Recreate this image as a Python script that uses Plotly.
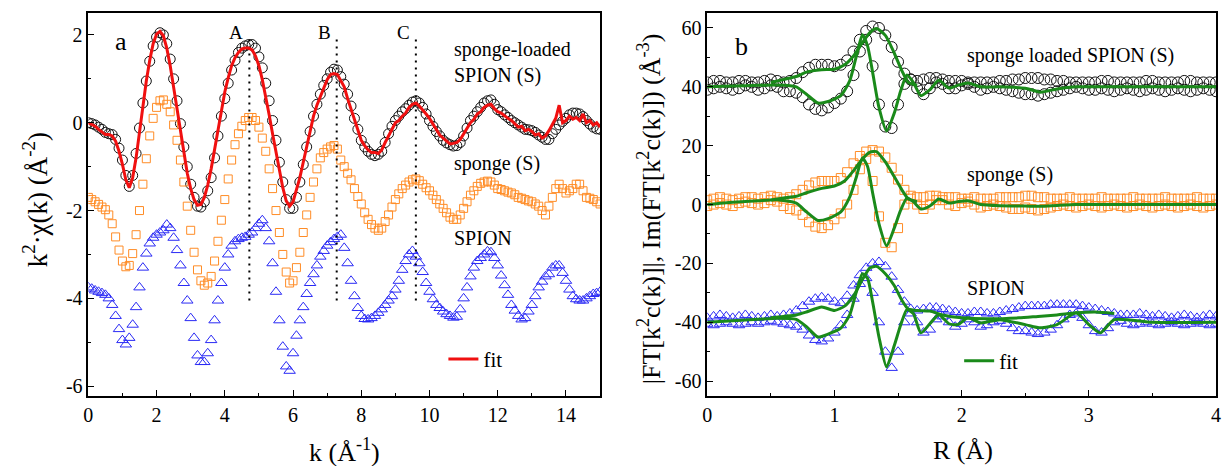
import plotly.graph_objects as go

# ---------------- panel a data (k-space) ----------------
k = [round(0.1 * i, 1) for i in range(151)]

chi_loaded = [
    0.00, -0.02, -0.05, -0.10, -0.15, -0.22, -0.25, -0.27, -0.38, -0.58,
    -0.85, -1.20, -1.45, -1.20, -0.70, -0.12, 0.45, 0.95, 1.40, 1.75,
    1.95, 2.05, 2.00, 1.80, 1.45, 1.00, 0.50, -0.02, -0.55, -1.00,
    -1.40, -1.70, -1.90, -1.92, -1.80, -1.55, -1.25, -0.80, -0.30, 0.15,
    0.55, 0.90, 1.20, 1.42, 1.60, 1.70, 1.75, 1.78, 1.78, 1.70,
    1.50, 1.25, 0.90, 0.50, 0.05, -0.40, -0.90, -1.35, -1.75, -1.95,
    -1.95, -1.70, -1.35, -0.95, -0.55, -0.20, 0.15, 0.42, 0.65, 0.85,
    1.00, 1.15, 1.22, 1.20, 1.05, 0.88, 0.65, 0.38, 0.10, -0.15,
    -0.40, -0.55, -0.65, -0.72, -0.75, -0.72, -0.65, -0.45, -0.25, -0.08,
    0.05, 0.15, 0.25, 0.32, 0.40, 0.47, 0.50, 0.45, 0.35, 0.20,
    0.05, -0.08, -0.20, -0.30, -0.40, -0.46, -0.50, -0.53, -0.52, -0.45,
    -0.30, -0.12, 0.05, 0.15, 0.25, 0.35, 0.45, 0.50, 0.52, 0.42,
    0.30, 0.25, 0.18, 0.12, 0.05, 0.00, -0.05, -0.10, -0.15, -0.16,
    -0.18, -0.22, -0.28, -0.33, -0.38, -0.38, -0.25, -0.15, -0.05, 0.03,
    0.10, 0.18, 0.22, 0.22, 0.20, 0.14, 0.05, -0.03, -0.10, -0.14,
    -0.15]

chi_fit = [
    0.00, -0.04, -0.08, -0.15, -0.22, -0.27, -0.27, -0.30, -0.42, -0.65,
    -0.95, -1.30, -1.48, -1.25, -0.80, -0.20, 0.40, 0.95, 1.42, 1.80,
    2.02, 2.08, 1.98, 1.70, 1.30, 0.82, 0.30, -0.22, -0.72, -1.15,
    -1.50, -1.75, -1.88, -1.86, -1.70, -1.42, -1.05, -0.60, -0.15, 0.30,
    0.70, 1.02, 1.30, 1.48, 1.60, 1.68, 1.70, 1.70, 1.66, 1.52,
    1.30, 0.98, 0.60, 0.18, -0.25, -0.68, -1.10, -1.48, -1.78, -1.90,
    -1.80, -1.55, -1.25, -0.90, -0.55, -0.20, 0.15, 0.40, 0.60, 0.80,
    0.98, 1.10, 1.12, 1.10, 0.95, 0.82, 0.55, 0.30, 0.05, -0.20,
    -0.40, -0.52, -0.62, -0.68, -0.68, -0.70, -0.62, -0.45, -0.30, -0.12,
    0.00, 0.05, 0.15, 0.22, 0.35, 0.42, 0.45, 0.38, 0.30, 0.20,
    0.10, -0.02, -0.15, -0.28, -0.35, -0.42, -0.48, -0.47, -0.45, -0.38,
    -0.25, -0.10, 0.00, 0.08, 0.20, 0.25, 0.35, 0.40, 0.42, 0.32,
    0.25, 0.22, 0.15, 0.10, 0.05, -0.02, -0.10, -0.08, -0.18, -0.15,
    -0.20, -0.28, -0.25, -0.35, -0.30, -0.18, -0.05, 0.10, 0.40, 0.00,
    0.05, 0.15, 0.08, 0.12, 0.05, 0.20, 0.00, 0.05, -0.05, 0.00,
    -0.10]

chi_sponge = [
    -1.70, -1.75, -1.80, -1.86, -1.92, -1.98, -2.10, -2.30, -2.60, -2.90,
    -3.15, -3.28, -3.25, -2.98, -2.55, -2.00, -1.40, -0.82, -0.30, 0.10,
    0.35, 0.50, 0.52, 0.42, 0.25, -0.05, -0.40, -0.85, -1.35, -1.90,
    -2.45, -2.95, -3.35, -3.60, -3.70, -3.65, -3.50, -3.15, -2.70, -2.22,
    -1.75, -1.28, -0.85, -0.50, -0.25, -0.08, 0.05, 0.12, 0.12, 0.05,
    -0.10, -0.35, -0.65, -1.05, -1.50, -2.00, -2.50, -3.00, -3.40, -3.65,
    -3.60, -3.30, -2.95, -2.50, -2.10, -1.70, -1.35, -1.05, -0.80, -0.68,
    -0.60, -0.55, -0.52, -0.60, -0.85, -1.00, -1.15, -1.30, -1.50, -1.68,
    -1.85, -2.05, -2.20, -2.32, -2.40, -2.45, -2.40, -2.25, -2.10, -1.92,
    -1.75, -1.62, -1.50, -1.42, -1.35, -1.30, -1.28, -1.32, -1.40, -1.48,
    -1.55, -1.65, -1.75, -1.85, -1.95, -2.05, -2.15, -2.20, -2.20, -2.10,
    -1.95, -1.80, -1.65, -1.55, -1.45, -1.38, -1.35, -1.33, -1.35, -1.42,
    -1.50, -1.52, -1.55, -1.58, -1.60, -1.64, -1.70, -1.72, -1.75, -1.78,
    -1.80, -1.85, -1.90, -2.00, -2.10, -1.90, -1.70, -1.50, -1.40, -1.50,
    -1.60, -1.55, -1.50, -1.40, -1.40, -1.55, -1.70, -1.72, -1.75, -1.80,
    -1.85]

chi_spion = [
    -3.75, -3.78, -3.82, -3.85, -3.88, -3.92, -4.00, -4.15, -4.40, -4.70,
    -4.95, -5.05, -4.90, -4.60, -4.20, -3.75, -3.30, -2.98, -2.75, -2.62,
    -2.55, -2.50, -2.45, -2.32, -2.40, -2.62, -2.90, -3.25, -3.65, -4.05,
    -4.45, -4.90, -5.30, -5.45, -5.45, -5.25, -4.95, -4.50, -4.05, -3.65,
    -3.30, -3.00, -2.80, -2.70, -2.65, -2.62, -2.60, -2.55, -2.50, -2.40,
    -2.30, -2.22, -2.40, -2.70, -3.20, -3.85, -4.50, -5.10, -5.55, -5.65,
    -5.25, -4.85, -4.50, -4.20, -3.90, -3.65, -3.45, -3.25, -3.05, -2.92,
    -2.80, -2.72, -2.65, -2.60, -2.55, -2.85, -3.20, -3.60, -3.95, -4.22,
    -4.40, -4.47, -4.48, -4.45, -4.40, -4.33, -4.25, -4.15, -4.05, -3.95,
    -3.80, -3.60, -3.35, -3.15, -3.00, -2.92, -3.05, -3.20, -3.40, -3.65,
    -3.85, -4.02, -4.15, -4.22, -4.30, -4.36, -4.40, -4.44, -4.42, -4.25,
    -4.00, -3.75, -3.50, -3.30, -3.15, -3.08, -3.00, -2.93, -2.95, -3.08,
    -3.25, -3.48, -3.70, -3.92, -4.15, -4.28, -4.40, -4.48, -4.45, -4.30,
    -4.15, -3.95, -3.75, -3.62, -3.50, -3.45, -3.30, -3.25, -3.25, -3.42,
    -3.60, -3.80, -3.95, -4.02, -4.05, -4.05, -4.00, -3.95, -3.90, -3.88,
    -3.85]

ref_k = [4.72, 7.28, 9.60]
ref_labels = ["A", "B", "C"]
ref_y = [-4.05, 1.95]

# ---------------- panel b data (R-space) ----------------
R = [round(0.05 * i, 2) for i in range(81)]

mag_loaded = [41.5, 42.0, 42.0, 41.5, 41.5, 42.0, 42.0, 41.5, 41.5, 42.0,
              42.5, 42.0, 41.5, 42.0, 43.0, 45.0, 46.5, 47.5, 47.5, 47.5,
              47.0, 47.5, 49.0, 52.0, 56.0, 59.0, 60.5, 60.0, 57.5, 53.5,
              48.5, 44.5, 42.5, 42.0, 42.5, 43.0, 43.0, 42.5, 42.0, 42.0,
              42.0, 41.5, 41.5, 41.5, 41.5, 41.5, 42.0, 42.0, 42.5, 42.5,
              43.0, 43.0, 43.0, 42.5, 42.5, 42.0, 42.0, 41.5, 41.5, 41.5,
              41.5, 41.5, 42.0, 42.0, 41.5, 41.5, 41.5, 41.5, 41.5, 42.0,
              42.0, 41.5, 41.5, 41.5, 41.5, 42.0, 42.0, 41.5, 41.5, 41.5, 41.5]
im_loaded = [39.0, 39.5, 40.0, 39.5, 39.0, 39.5, 40.5, 40.0, 39.0, 39.5,
             40.5, 40.0, 38.5, 38.5, 38.0, 36.5, 34.0, 32.5, 32.0, 33.0,
             34.5, 36.0, 38.5, 44.0, 52.0, 56.0, 47.0, 34.0, 26.5, 26.0,
             34.0, 41.0, 42.5, 39.5, 37.5, 39.5, 41.5, 41.0, 39.5, 39.5,
             40.5, 41.0, 40.0, 39.0, 39.5, 40.0, 39.5, 39.0, 38.5, 38.0,
             37.5, 37.5, 37.0, 37.5, 38.0, 38.5, 39.0, 39.5, 40.0, 39.5,
             39.0, 39.0, 39.5, 39.0, 38.5, 39.0, 39.5, 39.0, 38.5, 39.0,
             39.5, 39.0, 38.5, 39.0, 39.5, 39.0, 38.5, 39.0, 39.5, 39.0, 38.5]

mag_sponge = [1.5, 2.0, 2.5, 2.0, 1.5, 2.0, 2.5, 2.5, 2.0, 2.5,
              3.0, 2.5, 2.0, 2.5, 3.5, 5.0, 6.5, 7.5, 8.0, 8.0,
              8.0, 9.0, 11.0, 14.0, 16.5, 18.0, 18.5, 18.0, 16.0, 12.5,
              8.5, 5.0, 3.0, 2.5, 2.5, 3.0, 3.0, 2.5, 2.5, 2.5,
              2.0, 2.0, 2.5, 2.0, 2.0, 2.0, 2.5, 2.5, 2.5, 2.5,
              3.0, 3.0, 2.5, 2.5, 2.0, 2.0, 2.0, 2.5, 2.0, 2.0,
              2.0, 2.0, 2.5, 2.0, 2.0, 2.0, 2.0, 2.5, 2.0, 2.0,
              2.0, 2.0, 2.5, 2.0, 2.0, 2.0, 2.0, 2.5, 2.0, 2.0, 2.0]
im_sponge = [-0.5, 0.0, 0.5, 0.0, -0.5, 0.5, 1.0, 0.5, 0.0, 0.5,
             1.5, 1.0, -0.5, -1.5, -2.0, -3.5, -6.0, -7.5, -8.0, -7.0,
             -5.0, -3.0, 0.0, 5.0, 12.0, 15.5, 8.0, -4.0, -13.0, -14.5,
             -8.0, 0.0, 2.0, 0.0, -1.5, 0.0, 1.5, 1.5, 0.0, -0.5,
             0.5, 1.0, 0.0, -1.0, -0.5, 0.0, -0.5, -1.0, -1.5, -1.5,
             -1.0, -1.5, -2.0, -1.5, -1.0, -0.5, 0.0, -0.5, -1.0, -0.5,
             0.0, -0.5, -1.0, -0.5, 0.0, -0.5, -1.0, -0.5, 0.0, -0.5,
             -1.0, -0.5, 0.0, -0.5, -1.0, -0.5, 0.0, -0.5, -1.0, -0.5, 0.0]

mag_spion = [-38.5, -38.0, -37.5, -38.0, -38.5, -38.0, -37.5, -38.0, -38.5, -38.0,
             -37.5, -38.0, -37.5, -37.0, -36.0, -34.5, -33.0, -32.0, -31.5, -32.0,
             -33.0, -33.5, -31.0, -27.5, -24.0, -21.5, -20.0, -19.5, -21.0, -24.5,
             -29.0, -33.0, -35.5, -36.0, -35.5, -35.0, -35.0, -35.5, -36.0, -36.5,
             -37.0, -37.0, -36.5, -36.5, -37.0, -37.0, -36.5, -36.0, -35.5, -35.0,
             -34.5, -34.5, -34.5, -34.5, -34.0, -34.0, -34.0, -34.0, -34.0, -34.5,
             -35.0, -35.5, -36.0, -36.5, -37.0, -37.5, -37.5, -37.5, -37.0, -37.5,
             -38.0, -37.5, -38.0, -38.5, -38.0, -37.5, -38.0, -38.5, -38.0, -37.5, -38.0]
im_spion = [-40.5, -41.0, -40.5, -40.0, -40.5, -41.0, -40.5, -40.0, -40.5, -40.0,
            -39.5, -40.0, -40.5, -41.0, -41.5, -42.5, -44.5, -46.0, -46.5, -45.5,
            -43.5, -41.0, -37.5, -32.0, -27.0, -25.0, -30.0, -40.0, -50.0, -55.5,
            -50.0, -40.0, -37.0, -40.0, -43.5, -42.5, -39.0, -38.0, -40.0, -41.5,
            -40.5, -39.0, -40.0, -41.5, -41.0, -40.0, -39.5, -40.5, -42.0, -43.0,
            -43.0, -43.5, -44.0, -43.5, -42.5, -41.0, -39.0, -37.5, -37.0, -38.5,
            -41.0, -43.0, -43.5, -42.0, -40.0, -39.5, -40.5, -41.0, -40.5, -40.0,
            -40.5, -41.0, -40.5, -40.0, -40.5, -41.0, -40.5, -40.0, -40.5, -41.0, -40.5]

# fits of the imaginary part
R_fit_im = [0.00, 0.20, 0.40, 0.55, 0.70, 0.78, 0.87, 0.95, 1.05, 1.12,
            1.17, 1.22, 1.26, 1.30, 1.35, 1.41, 1.47, 1.52, 1.57, 1.62,
            1.68, 1.75, 1.82, 1.90, 1.97, 2.05, 2.15, 2.30, 2.50, 2.62,
            2.75, 2.90, 3.00, 3.09, 3.20, 3.50, 4.00]
fit_im_loaded = [40.0, 40.3, 40.5, 40.6, 40.0, 37.5, 34.5, 35.0, 37.0, 42.0,
                 50.0, 57.7, 54.0, 45.0, 33.0, 25.0, 31.0, 38.5, 44.0, 41.5,
                 37.0, 39.0, 42.2, 39.6, 40.5, 41.3, 40.0, 40.0, 39.5, 38.2,
                 39.3, 40.0, 40.0, 40.0, 40.0, 40.0, 40.0]
fit_im_sponge = [0.0, 0.8, 1.3, 1.6, 0.5, -2.5, -5.4, -4.8, -2.5, 2.5,
                 9.0, 15.8, 13.0, 4.0, -6.5, -14.0, -8.0, -2.0, 2.2, 1.0,
                 -1.5, -0.5, 1.9, 0.5, 1.0, 1.3, 0.0, -0.4, -0.5, -0.6,
                 -0.3, 0.0, 0.0, 0.0, 0.0, 0.0, 0.0]
fit_im_spion = [-40.0, -39.5, -39.0, -38.6, -39.0, -41.5, -45.0, -44.0, -42.0, -37.5,
                -30.0, -23.5, -25.0, -33.0, -45.0, -55.2, -48.0, -41.0, -35.7, -37.0,
                -43.6, -40.5, -37.4, -40.5, -40.8, -38.5, -40.2, -39.1, -40.8, -41.9,
                -40.8, -36.8, -40.8, -43.6, -39.1, -40.0, -40.0]

# fits of the magnitude
R_fit_mag = [0.50, 0.60, 0.70, 0.78, 0.90, 1.00, 1.08, 1.15, 1.22, 1.28,
             1.33, 1.40, 1.47, 1.53, 1.58, 1.65]
fit_mag_loaded = [41.5, 42.5, 43.5, 45.0, 45.8, 46.0, 47.5, 50.5, 55.0, 58.5,
                  59.8, 57.5, 51.5, 45.5, 41.5, 40.5]
fit_mag_sponge = [1.5, 2.2, 2.8, 4.0, 5.5, 6.3, 8.0, 11.5, 15.5, 17.8,
                  18.0, 14.5, 9.5, 5.0, 2.0, 1.0]
R_fit_mag_spion = [0.50, 0.60, 0.70, 0.78, 0.90, 1.00, 1.08, 1.15, 1.22, 1.28,
                   1.33, 1.40, 1.47, 1.53, 1.58, 1.65, 1.75, 1.85, 2.00, 2.20,
                   2.45, 2.60, 2.75, 2.90, 3.05, 3.20]
fit_mag_spion = [-38.5, -38.0, -37.5, -36.5, -34.8, -36.0, -34.5, -31.0, -25.5, -21.5,
                 -21.0, -23.5, -27.5, -32.5, -35.5, -36.0, -36.2, -37.5, -38.5, -38.8,
                 -38.5, -38.0, -37.5, -36.8, -36.5, -37.0]

# ---------------- styling ----------------
FONT = "Liberation Serif, Times New Roman, Times, serif"
BLACK = "#111111"
ORANGE = "#FF8C26"
BLUE = "#2A2AF5"
RED = "#F01010"
GREEN = "#1A8A1A"

fig = go.Figure()

# panel a
fig.add_trace(go.Scatter(x=k, y=chi_loaded, mode="markers", xaxis="x", yaxis="y",
                         marker=dict(symbol="circle-open", size=10, color=BLACK, line=dict(width=1)),
                         showlegend=False))
fig.add_trace(go.Scatter(x=k, y=chi_sponge, mode="markers", xaxis="x", yaxis="y",
                         marker=dict(symbol="square-open", size=8, color=ORANGE, line=dict(width=1)),
                         showlegend=False))
fig.add_trace(go.Scatter(x=k, y=chi_spion, mode="markers", xaxis="x", yaxis="y",
                         marker=dict(symbol="triangle-up-open", size=10, color=BLUE, line=dict(width=1)),
                         showlegend=False))
for kk in ref_k:
    fig.add_trace(go.Scatter(x=[kk, kk], y=ref_y, mode="lines", xaxis="x", yaxis="y",
                             line=dict(color="black", width=2, dash="2px,5px"), showlegend=False))
fig.add_trace(go.Scatter(x=k, y=chi_fit, mode="lines", xaxis="x", yaxis="y", name="fit",
                         line=dict(color=RED, width=3), legend="legend"))

# panel b
for xs, ys, sym, col, sz in [
    (R, mag_loaded, "circle-open", BLACK, 11), (R, im_loaded, "circle-open", BLACK, 11),
    (R, mag_sponge, "square-open", ORANGE, 9), (R, im_sponge, "square-open", ORANGE, 9),
    (R, mag_spion, "triangle-up-open", BLUE, 10), (R, im_spion, "triangle-up-open", BLUE, 10),
]:
    fig.add_trace(go.Scatter(x=xs, y=ys, mode="markers", xaxis="x2", yaxis="y2",
                             marker=dict(symbol=sym, size=sz, color=col, line=dict(width=1)),
                             showlegend=False))
first = True
for xs, ys in [(R_fit_im, fit_im_loaded), (R_fit_im, fit_im_sponge), (R_fit_im, fit_im_spion),
               (R_fit_mag, fit_mag_loaded), (R_fit_mag, fit_mag_sponge),
               (R_fit_mag_spion, fit_mag_spion)]:
    fig.add_trace(go.Scatter(x=xs, y=ys, mode="lines", xaxis="x2", yaxis="y2", name="fit",
                             line=dict(color=GREEN, width=3, shape="spline", smoothing=0.6),
                             showlegend=first, legend="legend2"))
    first = False

axis_common = dict(showline=True, linecolor="black", linewidth=1.5, mirror=True,
                   ticks="inside", ticklen=6, tickwidth=1.2, tickcolor="black",
                   showgrid=False, zeroline=False,
                   tickfont=dict(family=FONT, size=20, color="black"))

ya_vals = [-6, -4, -2, 0, 2]
yb_vals = [-60, -40, -20, 0, 20, 40, 60]

fig.update_layout(
    width=1226, height=466, margin=dict(l=0, r=0, t=0, b=0),
    paper_bgcolor="white", plot_bgcolor="white",
    font=dict(family=FONT, size=20, color="black"),
    xaxis=dict(domain=[84 / 1226, 600 / 1226], range=[0, 15], tickmode="array",
               tickvals=[0, 2, 4, 6, 8, 10, 12, 14],
               minor=dict(tickmode="array", tickvals=[1, 3, 5, 7, 9, 11, 13], ticks="inside",
                          ticklen=3, tickcolor="black"),
               anchor="y", **axis_common),
    yaxis=dict(domain=[1 - 397 / 466, 1 - 13 / 466], range=[-6.227, 2.5], tickmode="array",
               tickvals=ya_vals, ticktext=[str(v) for v in ya_vals],
               minor=dict(tickmode="array", tickvals=[-5, -3, -1, 1], ticks="inside",
                          ticklen=3, tickcolor="black"),
               anchor="x", **axis_common),
    xaxis2=dict(domain=[708 / 1226, 1221 / 1226], range=[0, 4], tickmode="array",
                tickvals=[0, 1, 2, 3, 4],
                minor=dict(tickmode="array", tickvals=[0.5, 1.5, 2.5, 3.5], ticks="inside",
                           ticklen=3, tickcolor="black"),
                anchor="y2", **axis_common),
    yaxis2=dict(domain=[1 - 397 / 466, 1 - 13 / 466], range=[-65.1, 65.1], tickmode="array",
                tickvals=yb_vals, ticktext=[str(v) for v in yb_vals],
                minor=dict(tickmode="array", tickvals=[-50, -30, -10, 10, 30, 50], ticks="inside",
                           ticklen=3, tickcolor="black"),
                anchor="x2", **axis_common),
    legend=dict(x=442 / 1226, y=1 - 360 / 466, xanchor="left", yanchor="middle",
                bgcolor="rgba(0,0,0,0)", font=dict(family=FONT, size=21)),
    legend2=dict(x=962 / 1226, y=1 - 362 / 466, xanchor="left", yanchor="middle",
                 bgcolor="rgba(0,0,0,0)", font=dict(family=FONT, size=21)),
)

ann = []
# panel a labels
ann.append(dict(x=0.95, y=1.85, xref="x", yref="y", text="a", showarrow=False,
                font=dict(size=26), xanchor="center", yanchor="middle"))
for kk, lab in zip(ref_k, ref_labels):
    ann.append(dict(x=kk - 0.12, y=2.05, xref="x", yref="y", text=lab, showarrow=False,
                    font=dict(size=19), xanchor="right", yanchor="middle"))
ann += [
    dict(x=10.67, y=1.67, xref="x", yref="y", text="sponge-loaded", showarrow=False,
         font=dict(size=20), xanchor="left", yanchor="middle"),
    dict(x=10.67, y=1.07, xref="x", yref="y", text="SPION (S)", showarrow=False,
         font=dict(size=20), xanchor="left", yanchor="middle"),
    dict(x=10.67, y=-0.92, xref="x", yref="y", text="sponge (S)", showarrow=False,
         font=dict(size=20), xanchor="left", yanchor="middle"),
    dict(x=10.67, y=-2.62, xref="x", yref="y", text="SPION", showarrow=False,
         font=dict(size=20), xanchor="left", yanchor="middle"),
    # panel b labels
    dict(x=0.27, y=53.8, xref="x2", yref="y2", text="b", showarrow=False,
         font=dict(size=26), xanchor="center", yanchor="middle"),
    dict(x=2.03, y=50.6, xref="x2", yref="y2", text="sponge loaded SPION (S)", showarrow=False,
         font=dict(size=20), xanchor="left", yanchor="middle"),
    dict(x=2.03, y=10.2, xref="x2", yref="y2", text="sponge (S)", showarrow=False,
         font=dict(size=20), xanchor="left", yanchor="middle"),
    dict(x=2.03, y=-28.3, xref="x2", yref="y2", text="SPION", showarrow=False,
         font=dict(size=20), xanchor="left", yanchor="middle"),
    # axis titles
    dict(x=342 / 1226, y=1 - 451 / 466, xref="paper", yref="paper",
         text="k (Å<sup>-1</sup>)", showarrow=False, font=dict(size=26),
         xanchor="center", yanchor="middle"),
    dict(x=966 / 1226, y=1 - 451 / 466, xref="paper", yref="paper",
         text="R (Å)", showarrow=False, font=dict(size=26),
         xanchor="center", yanchor="middle"),
    dict(x=30 / 1226, y=1 - 200 / 466, xref="paper", yref="paper",
         text="k<sup>2</sup>·χ(k) (Å<sup>-2</sup>)", showarrow=False, font=dict(size=27),
         textangle=-90, xanchor="center", yanchor="middle"),
    dict(x=650 / 1226, y=1 - 209 / 466, xref="paper", yref="paper",
         text="|FT[k<sup>2</sup>c(k)]|, Im(FT[k<sup>2</sup>c(k)]) (Å<sup>-3</sup>)",
         showarrow=False, font=dict(size=26),
         textangle=-90, xanchor="center", yanchor="middle"),
]
fig.update_layout(annotations=ann)

fig.write_html("out.html", config={"displayModeBar": False},
               post_script="document.body.style.margin='0px';")
